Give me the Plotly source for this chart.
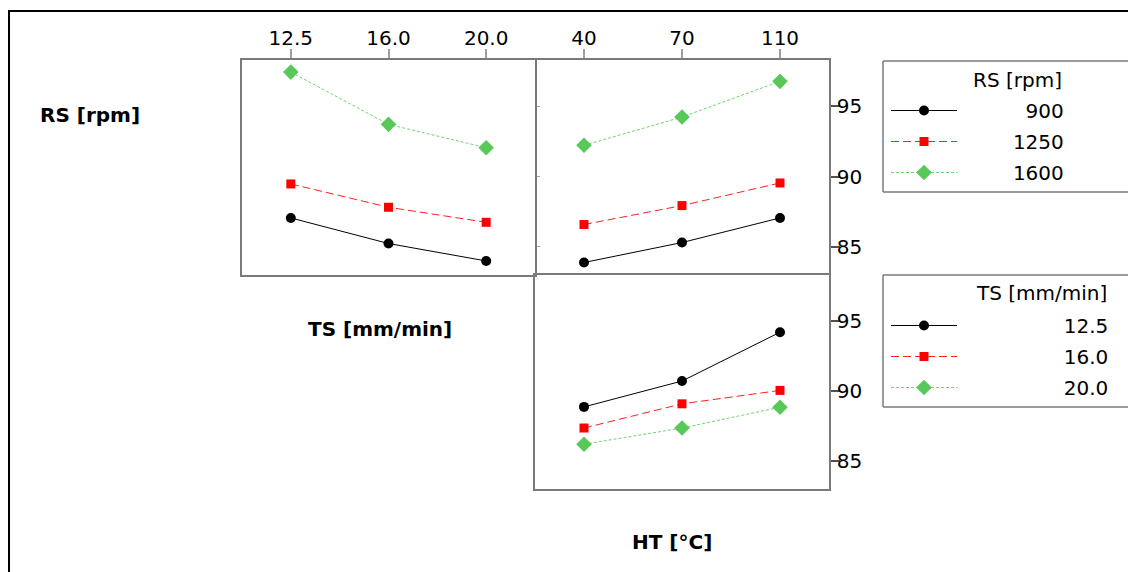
import plotly.graph_objects as go

# ---------------- data ----------------
TS_LEVELS = ["12.5", "16.0", "20.0"]          # traverse speed [mm/min]
HT_LEVELS = ["40", "70", "110"]               # heat treatment [°C]
FS = "\u2007"                                 # figure space (digit width), used for right alignment
RS_NAMES = [FS * 5 + "900", FS * 4 + "1250", FS * 4 + "1600"]
TS_NAMES = [FS * 8 + "12.5", FS * 8 + "16.0", FS * 8 + "20.0"]

# RS levels plotted against TS (top-left panel)
rs900_ts = [87.06, 85.24, 84.00]
rs1250_ts = [89.48, 87.82, 86.75]
rs1600_ts = [97.44, 93.72, 92.06]
# RS levels plotted against HT (top-right panel)
rs900_ht = [83.89, 85.31, 87.06]
rs1250_ht = [86.59, 87.94, 89.55]
rs1600_ht = [92.23, 94.24, 96.78]
# TS levels plotted against HT (bottom-right panel)
ts125_ht = [88.87, 90.72, 94.21]
ts160_ht = [87.36, 89.09, 90.05]
ts200_ht = [86.20, 87.36, 88.85]

Y_TICKS = [85, 90, 95]
Y_RANGE = [83.0, 98.3]

# ---------------- styles ----------------
OFF = 8                      # page body margin of the html page
W, H = 1136 - OFF, 572 - OFF
FONT = "DejaVu Sans"
GREEN = "#58c958"
STYLES = [
    dict(line=dict(color="black", width=1, dash="solid"),
         marker=dict(symbol="circle", size=10, color="black")),
    dict(line=dict(color="#ff2020", width=1, dash="8px,4px"),
         marker=dict(symbol="square", size=9, color="red")),
    dict(line=dict(color="#70d470", width=1, dash="3px,2px"),
         marker=dict(symbol="diamond", size=12, color=GREEN)),
]


def px_x(v):
    return (v - OFF) / W


def px_y(v):
    return 1 - (v - OFF) / H


fig = go.Figure()

# top-left: RS vs TS
for vals, st in zip([rs900_ts, rs1250_ts, rs1600_ts], STYLES):
    fig.add_trace(go.Scatter(x=TS_LEVELS, y=vals, mode="lines+markers",
                             xaxis="x", yaxis="y", showlegend=False, **st))
# top-right: RS vs HT  (legend 1)
for i, (vals, name, st) in enumerate(zip([rs900_ht, rs1250_ht, rs1600_ht], RS_NAMES, STYLES)):
    fig.add_trace(go.Scatter(x=HT_LEVELS, y=vals, mode="lines+markers", name=name,
                             legendgroup="rs%d" % i,
                             xaxis="x2", yaxis="y2", legend="legend", **st))
# bottom-right: TS vs HT  (legend 2)
for i, (vals, name, st) in enumerate(zip([ts125_ht, ts160_ht, ts200_ht], TS_NAMES, STYLES)):
    fig.add_trace(go.Scatter(x=HT_LEVELS, y=vals, mode="lines+markers", name=name,
                             legendgroup="ts%d" % i,
                             xaxis="x3", yaxis="y3", legend="legend2", **st))

BORDER = "#7a7a7a"
TICKC = "#a0a0a0"
common_x = dict(type="category", range=[-0.5, 2.5], showgrid=False, zeroline=False,
                showline=True, linecolor=BORDER, linewidth=1.5)
common_y = dict(range=Y_RANGE, showgrid=False, zeroline=False, showline=True,
                linecolor=BORDER, linewidth=1.5, tickvals=Y_TICKS)

legend_common = dict(xanchor="left", yanchor="top", bgcolor="rgba(0,0,0,0)",
                     borderwidth=0, itemwidth=66, tracegroupgap=2,
                     traceorder="grouped", font=dict(family=FONT, size=20))

fig.update_layout(
    width=W, height=H,
    margin=dict(l=0, r=0, t=0, b=0),
    paper_bgcolor="white", plot_bgcolor="white",
    font=dict(family=FONT, size=20, color="black"),
    xaxis=dict(common_x, domain=[px_x(242), px_x(535)], anchor="y", side="top",
               mirror=True, ticks="outside", ticklen=9, tickwidth=2, tickcolor=TICKC,
               ticklabelstandoff=-4),
    yaxis=dict(common_y, domain=[px_y(275), px_y(60)], anchor="x", side="right",
               mirror=True, ticks="outside", ticklen=3, tickwidth=1, tickcolor=TICKC,
               showticklabels=False),
    xaxis2=dict(common_x, domain=[px_x(535), px_x(829)], anchor="y2", side="top",
                mirror=False, ticks="outside", ticklen=9, tickwidth=2, tickcolor=TICKC,
                ticklabelstandoff=-4),
    yaxis2=dict(common_y, domain=[px_y(275), px_y(60)], anchor="x2", side="right",
                mirror=False, ticks="outside", ticklen=9, tickwidth=1.5, tickcolor="#505050",
                ticklabelstandoff=-7),
    xaxis3=dict(common_x, domain=[px_x(535), px_x(829)], anchor="y3",
                mirror=True, ticks="", showticklabels=False),
    yaxis3=dict(common_y, domain=[px_y(489), px_y(275)], anchor="x3", side="right",
                mirror=True, ticks="outside", ticklen=9, tickwidth=1.5, tickcolor="#505050",
                ticklabelstandoff=-7),
    legend=dict(legend_common, x=px_x(886), y=px_y(91)),
    legend2=dict(legend_common, x=px_x(886), y=px_y(306)),
)

# frames: outer border and legend boxes
shapes = [
    dict(type="rect", xref="paper", yref="paper", x0=px_x(9), x1=1.05,
         y0=-0.1, y1=px_y(11), line=dict(color="black", width=2)),
]
for top, bot in [(61, 192), (275, 407)]:
    shapes += [
        dict(type="line", xref="paper", yref="paper", x0=px_x(883), x1=px_x(1128),
             y0=px_y(top), y1=px_y(top), line=dict(color=BORDER, width=1.5)),
        dict(type="line", xref="paper", yref="paper", x0=px_x(883), x1=px_x(1128),
             y0=px_y(bot), y1=px_y(bot), line=dict(color=BORDER, width=1.5)),
        dict(type="line", xref="paper", yref="paper", x0=px_x(883), x1=px_x(883),
             y0=px_y(top), y1=px_y(bot), line=dict(color=BORDER, width=1.5)),
    ]
fig.update_layout(shapes=shapes)

ann = [
    dict(text="<b>RS [rpm]</b>", x=px_x(38), y=px_y(115), xanchor="left", yanchor="middle"),
    dict(text="<b>TS [mm/min]</b>", x=px_x(380), y=px_y(329), xanchor="center", yanchor="middle"),
    dict(text="<b>HT [°C]</b>", x=px_x(672), y=px_y(542), xanchor="center", yanchor="middle"),
    dict(text="RS [rpm]", x=px_x(1064), y=px_y(80), xanchor="right", yanchor="middle"),
    dict(text="TS [mm/min]", x=px_x(1109), y=px_y(293), xanchor="right", yanchor="middle"),
]
for a in ann:
    fig.add_annotation(xref="paper", yref="paper", showarrow=False,
                       font=dict(family=FONT, size=20, color="black"), **a)

fig.write_html("out.html")
